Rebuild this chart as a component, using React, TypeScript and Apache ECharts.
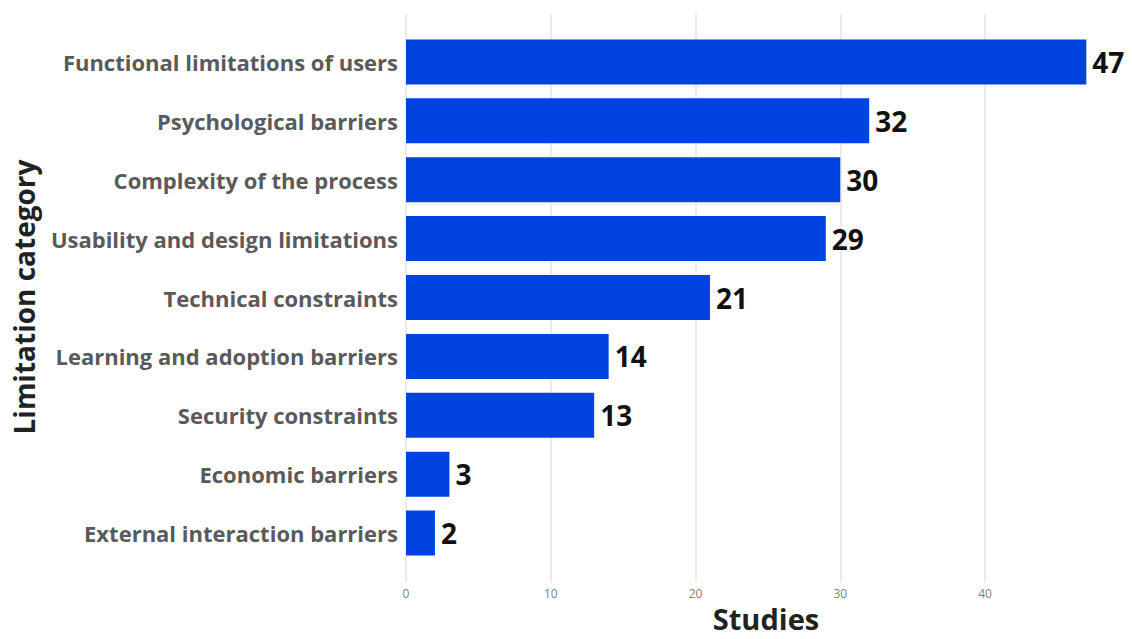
import React, { useEffect, useRef } from "react";
import * as echarts from "echarts";

const categories = [
  "Functional limitations of users",
  "Psychological barriers",
  "Complexity of the process",
  "Usability and design limitations",
  "Technical constraints",
  "Learning and adoption barriers",
  "Security constraints",
  "Economic barriers",
  "External interaction barriers",
];
const studies = [47, 32, 30, 29, 21, 14, 13, 3, 2];
const xTitle = "Studies";
const yTitle = "Limitation category";

export default function App() {
  const ref = useRef<HTMLDivElement>(null);
  useEffect(() => {
    if (!ref.current) return;
    const chart = echarts.init(ref.current, null, { renderer: "svg" });
    const font = "'Open Sans', 'Noto Sans', sans-serif";
    const unit = 579 / 40;
    chart.setOption({
      animation: false,
      backgroundColor: "#ffffff",
      grid: [
        { left: 406, width: 579, top: 14, height: 568, containLabel: false },
        { left: 406, width: unit * 49.5, top: 32.5, height: 530, containLabel: false },
      ],
      xAxis: [
        {
          gridIndex: 0,
          type: "value",
          min: 0,
          max: 40,
          interval: 10,
          axisLine: { show: false },
          axisTick: { show: false },
          axisLabel: { color: "#808080", fontSize: 12, fontFamily: font, margin: 5 },
          splitLine: { show: true, lineStyle: { color: "#ebebeb", width: 2 } },
        },
        {
          gridIndex: 1,
          type: "value",
          min: 0,
          max: 49.5,
          show: false,
          splitLine: { show: false },
        },
      ],
      yAxis: [
        {
          gridIndex: 0,
          type: "value",
          show: false,
          splitLine: { show: false },
        },
        {
          gridIndex: 1,
          type: "category",
          data: categories,
          inverse: true,
          axisLine: { show: false },
          axisTick: { show: false },
          splitLine: { show: false },
          axisLabel: {
            color: "#5a5a5a",
            fontSize: 22,
            fontWeight: "bold",
            fontFamily: font,
            margin: 8,
          },
        },
      ],
      series: [
        {
          type: "bar",
          xAxisIndex: 1,
          yAxisIndex: 1,
          data: studies,
          barWidth: 45,
          itemStyle: { color: "#0043E1" },
          label: {
            show: true,
            position: "right",
            distance: 6,
            color: "#111111",
            fontSize: 28,
            fontWeight: "bold",
            fontFamily: font,
          },
        },
      ],
      graphic: [
        {
          type: "text",
          x: 766,
          y: 604,
          style: {
            text: xTitle,
            fill: "#222222",
            font: "bold 29px " + font,
            align: "center",
            verticalAlign: "top",
          },
        },
        {
          type: "text",
          x: 10,
          y: 297,
          rotation: Math.PI / 2,
          style: {
            text: yTitle,
            fill: "#222222",
            font: "bold 28px " + font,
            align: "center",
            verticalAlign: "top",
          },
        },
      ],
    });
    return () => chart.dispose();
  }, []);
  return (
    <div
      ref={ref}
      style={{ position: "fixed", left: 0, top: 0, width: 1132, height: 639 }}
    />
  );
}
